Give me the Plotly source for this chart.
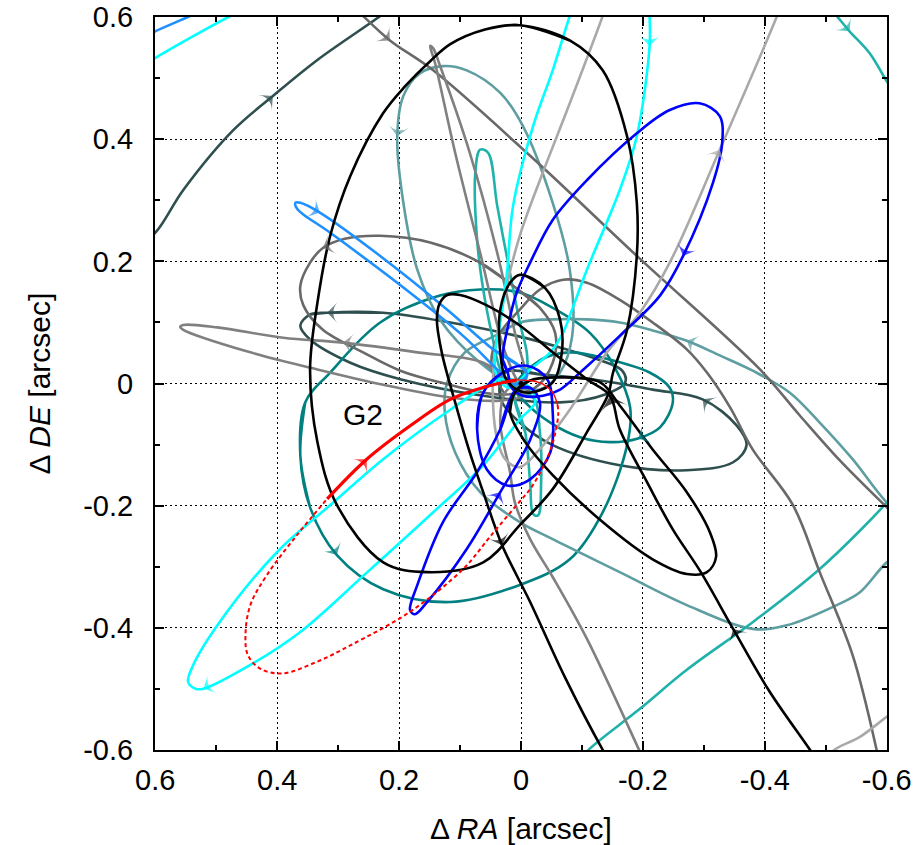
import plotly.graph_objects as go

# ---------------------------------------------------------------
# Sky-projected orbits around Sgr A* (offsets in arcsec), G2 cloud
# ---------------------------------------------------------------

TICK_VALUES = [-0.6, -0.4, -0.2, 0.0, 0.2, 0.4, 0.6]
TICK_LABELS = ["-0.6", "-0.4", "-0.2", "0", "0.2", "0.4", "0.6"]

# large black ellipse
black_big_ra = [0.002, -0.080, -0.134, -0.174, -0.190, -0.190, -0.174, -0.151, -0.143, -0.108, -0.052, 0.002,
                0.062, 0.154, 0.226, 0.302, 0.334, 0.346, 0.334, 0.313, 0.280, 0.226, 0.190, 0.149, 0.116, 0.059]
black_big_de = [0.587, 0.562, 0.513, 0.405, 0.296, 0.209, 0.088, 0.018, -0.018, -0.080, -0.173, -0.232,
                -0.293, -0.309, -0.293, -0.199, -0.096, 0.023, 0.132, 0.242, 0.340, 0.443, 0.487, 0.528, 0.556, 0.580]

# compact black ellipse close to the centre
black_inner_ra = [0.002, -0.039, -0.064, -0.067, -0.052, -0.015, 0.007, 0.026, 0.034, 0.034, 0.018]
black_inner_de = [0.178, 0.157, 0.105, 0.051, 0.002, -0.015, -0.010, 0.010, 0.051, 0.121, 0.165]

# elongated black ellipse towards the south-west
black_loop_ra = [0.010, -0.015, -0.064, -0.130, -0.162, -0.216, -0.272, -0.310, -0.320, -0.305, -0.272, -0.216,
                 -0.134, -0.052, -0.007, 0.018]
black_loop_de = [-0.015, 0.005, 0.010, 0.002, -0.036, -0.108, -0.178, -0.244, -0.284, -0.309, -0.312, -0.288,
                 -0.227, -0.150, -0.096, -0.047]

# black orbit leaving the field at the bottom
black_open_ra = [-0.146, -0.134, -0.072, -0.015, 0.031, 0.062, 0.084, 0.108, 0.130, 0.138, 0.133, 0.121, 0.100,
                 0.056, 0.002, -0.052, -0.108, -0.146, -0.162, -0.207, -0.249, -0.295, -0.348, -0.408, -0.474, -0.487]
black_open_de = [-0.620, -0.600, -0.481, -0.358, -0.265, -0.178, -0.113, -0.031, 0.051, 0.105, 0.132, 0.145, 0.145,
                 0.128, 0.095, 0.051, 0.007, -0.020, -0.075, -0.162, -0.239, -0.309, -0.402, -0.505, -0.600, -0.620]

# blue orbits
blue_big_ra = [0.021, 0.030, 0.021, 0.007, -0.015, -0.052, -0.108, -0.190, -0.244, -0.293, -0.326, -0.330, -0.315,
               -0.266, -0.228, -0.162, -0.097, -0.064, -0.036, -0.003, 0.018]
blue_big_de = [0.015, 0.039, 0.095, 0.149, 0.198, 0.268, 0.333, 0.410, 0.448, 0.459, 0.438, 0.394, 0.329,
               0.209, 0.144, 0.078, 0.018, -0.010, -0.020, -0.020, -0.003]

blue_sw_ra = [0.008, 0.034, 0.072, 0.128, 0.170, 0.182, 0.174, 0.154, 0.089, 0.034, -0.015, -0.031, -0.015]
blue_sw_de = [-0.010, -0.075, -0.145, -0.227, -0.330, -0.371, -0.378, -0.358, -0.271, -0.178, -0.092, -0.031, -0.007]

blue_inner_ra = [0.062, 0.072, 0.056, 0.023, -0.015, -0.048, -0.052, -0.043, -0.010, 0.030]
blue_inner_de = [-0.015, -0.075, -0.141, -0.167, -0.157, -0.113, -0.047, 0.007, 0.029, 0.018]

# dodger-blue orbits
dodger_ra = [-0.010, 0.046, 0.121, 0.231, 0.330, 0.362, 0.370, 0.367, 0.313, 0.203, 0.095, 0.039, 0.010]
dodger_de = [0.015, 0.056, 0.121, 0.209, 0.280, 0.296, 0.296, 0.286, 0.247, 0.165, 0.078, 0.023, -0.002]

dodger_corner_ra = [0.616, 0.600, 0.543, 0.526]
dodger_corner_de = [0.569, 0.577, 0.602, 0.610]

# cyan orbits
cyan_corner_ra = [0.616, 0.600, 0.534, 0.477, 0.461]
cyan_corner_de = [0.522, 0.533, 0.571, 0.602, 0.610]

cyan_sw_ra = [0.034, 0.116, 0.226, 0.308, 0.400, 0.498, 0.539, 0.546, 0.534, 0.521, 0.444, 0.362, 0.252, 0.144,
              0.062, 0.002, -0.023, -0.015, 0.010]
cyan_sw_de = [0.007, -0.043, -0.124, -0.195, -0.276, -0.396, -0.464, -0.489, -0.500, -0.500, -0.461, -0.407,
              -0.309, -0.211, -0.134, -0.059, -0.031, -0.007, 0.005]

cyan_north_ra = [-0.085, -0.080, -0.052, -0.020, 0.013, 0.023, 0.034, 0.043, 0.039, 0.018, -0.015, -0.048,
                 -0.069, -0.080, -0.108, -0.162, -0.190, -0.211, -0.211, -0.211]
cyan_north_de = [0.615, 0.602, 0.513, 0.422, 0.291, 0.181, 0.100, 0.046, 0.010, -0.007, 0.023, 0.051,
                 0.083, 0.111, 0.186, 0.317, 0.405, 0.553, 0.602, 0.615]

# light-sea-green orbits
lsg_north_ra = [0.034, 0.046, 0.062, 0.072, 0.075, 0.067, 0.054, 0.039, 0.018, 0.002, -0.010, -0.007, 0.015]
lsg_north_de = [0.023, 0.072, 0.154, 0.235, 0.345, 0.383, 0.378, 0.291, 0.181, 0.100, 0.046, 0.005, -0.007]

lsg_south_ra = [0.010, -0.007, -0.015, -0.020, -0.028, -0.033, -0.031, -0.020]
lsg_south_de = [-0.015, -0.080, -0.162, -0.214, -0.216, -0.162, -0.080, -0.023]

lsg_ne_ra = [-0.507, -0.518, -0.539, -0.572, -0.600, -0.613]
lsg_ne_de = [0.615, 0.602, 0.577, 0.541, 0.495, 0.476]

lsg_se_ra = [-0.097, -0.108, -0.195, -0.272, -0.380, -0.490, -0.600, -0.613]
lsg_se_de = [-0.620, -0.603, -0.533, -0.469, -0.391, -0.304, -0.195, -0.178]

# cadet-blue orbits
cadet_north_ra = [0.002, 0.067, 0.133, 0.170, 0.193, 0.203, 0.193, 0.166, 0.128, 0.089, 0.034, -0.003, -0.052,
                  -0.080, -0.084, -0.064, -0.031]
cadet_north_de = [-0.007, 0.034, 0.105, 0.186, 0.296, 0.405, 0.471, 0.508, 0.520, 0.513, 0.476, 0.422, 0.296,
                  0.186, 0.078, 0.018, -0.010]

cadet_big_ra = [0.002, -0.052, -0.108, -0.162, -0.216, -0.272, -0.326, -0.380, -0.441, -0.490, -0.544, -0.600,
                -0.638, -0.638, -0.600, -0.556, -0.518, -0.436, -0.380, -0.272, -0.162, -0.052, 0.002, 0.067,
                0.108, 0.125, 0.121, 0.092, 0.039]
cadet_big_de = [0.100, 0.105, 0.105, 0.100, 0.087, 0.070, 0.046, 0.021, -0.015, -0.064, -0.124, -0.195,
                -0.227, -0.268, -0.293, -0.342, -0.363, -0.396, -0.402, -0.363, -0.309, -0.255, -0.227, -0.178,
                -0.113, -0.047, 0.002, 0.051, 0.080]

# teal orbits
teal_big_ra = [0.362, 0.354, 0.313, 0.231, 0.133, 0.067, 0.002, -0.052, -0.113, -0.154, -0.179, -0.174, -0.134,
               -0.080, 0.002, 0.116, 0.226, 0.302, 0.346]
teal_big_de = [-0.118, -0.031, 0.018, 0.100, 0.144, 0.154, 0.149, 0.124, 0.083, 0.026, -0.039, -0.101, -0.211,
               -0.288, -0.330, -0.358, -0.337, -0.281, -0.203]

teal_east_ra = [0.010, -0.031, -0.080, -0.146, -0.211, -0.244, -0.249, -0.228, -0.192, -0.146, -0.097, -0.048, -0.007]
teal_east_de = [-0.007, 0.038, 0.051, 0.039, 0.018, -0.007, -0.031, -0.072, -0.090, -0.096, -0.088, -0.064, -0.031]

# dark-slate-grey orbits
dsg_arc_ra = [0.625, 0.600, 0.554, 0.472, 0.407, 0.334, 0.231, 0.215]
dsg_arc_de = [0.231, 0.247, 0.317, 0.415, 0.471, 0.530, 0.602, 0.615]

dsg_west_ra = [0.318, 0.226, 0.116, 0.007, -0.064, -0.130, -0.166, -0.171, -0.138, -0.064, 0.062, 0.198, 0.280,
               0.346, 0.362, 0.346]
dsg_west_de = [0.116, 0.116, 0.100, 0.078, 0.059, 0.038, 0.021, 0.002, -0.018, -0.031, -0.020, 0.007, 0.034,
               0.072, 0.095, 0.113]

dsg_east_ra = [0.026, -0.031, -0.130, -0.216, -0.298, -0.354, -0.370, -0.348, -0.272, -0.162, -0.052, 0.002, 0.034]
dsg_east_de = [0.018, 0.015, 0.005, -0.010, -0.026, -0.069, -0.101, -0.129, -0.142, -0.134, -0.101, -0.064, -0.023]

# grey orbits
dimgray_line_ra = [0.272, 0.259, 0.215, 0.144, -0.015, -0.190, -0.392, -0.457, -0.523, -0.600, -0.621]
dimgray_line_de = [0.615, 0.602, 0.562, 0.513, 0.373, 0.209, 0.023, -0.052, -0.126, -0.203, -0.224]

dimgray_arc_ra = [0.026, 0.048, 0.039, 0.002, -0.031, -0.069, -0.108, -0.162, -0.216, -0.272, -0.305, -0.343,
                  -0.380, -0.446, -0.490, -0.544, -0.584, -0.589]
dimgray_arc_de = [-0.018, 0.026, 0.075, 0.121, 0.154, 0.170, 0.165, 0.137, 0.100, 0.056, 0.018, -0.039,
                  -0.108, -0.199, -0.309, -0.445, -0.603, -0.628]

dimgray_loop_ra = [0.013, -0.031, -0.056, -0.052, -0.023, 0.034, 0.133, 0.198, 0.259, 0.325, 0.357, 0.362, 0.346,
                   0.325, 0.289, 0.231, 0.149, 0.067]
dimgray_loop_de = [0.160, 0.124, 0.083, 0.034, -0.007, -0.018, 0.002, 0.021, 0.051, 0.088, 0.128, 0.160, 0.198,
                   0.222, 0.237, 0.242, 0.231, 0.198]

gray_west_ra = [0.010, 0.062, 0.170, 0.292, 0.390, 0.498, 0.554, 0.559, 0.554, 0.444, 0.334, 0.226, 0.116, 0.034, -0.007]
gray_west_de = [-0.003, 0.034, 0.051, 0.067, 0.075, 0.092, 0.096, 0.093, 0.088, 0.051, 0.023, -0.002, -0.023,
                -0.028, -0.018]

gray_north_ra = [0.002, 0.026, 0.067, 0.108, 0.141, 0.149, 0.144, 0.133, 0.084, 0.039, 0.010, -0.007]
gray_north_de = [0.002, 0.051, 0.214, 0.378, 0.525, 0.553, 0.549, 0.521, 0.378, 0.214, 0.083, 0.010]

gray_south_ra = [-0.203, -0.195, -0.108, -0.052, -0.015, 0.010, 0.018, 0.034, 0.026, 0.002]
gray_south_de = [-0.620, -0.603, -0.418, -0.317, -0.255, -0.195, -0.145, -0.064, -0.015, 0.005]

darkgray_north_ra = [-0.141, -0.134, -0.080, -0.031, 0.002, 0.026, 0.043, 0.046, 0.039, 0.026, 0.002, -0.026,
                     -0.080, -0.141, -0.195, -0.244, -0.326, -0.420, -0.428]
darkgray_north_de = [0.623, 0.602, 0.459, 0.333, 0.242, 0.149, 0.051, -0.031, -0.092, -0.124, -0.137, -0.113,
                     -0.043, 0.051, 0.116, 0.198, 0.383, 0.602, 0.623]

darkgray_se_ra = [-0.507, -0.511, -0.556, -0.600, -0.616]
darkgray_se_de = [-0.620, -0.603, -0.579, -0.546, -0.535]

# G2: observed arc (solid), pericentre passage (thin), remaining orbit (dashed)
g2_solid_ra = [0.318, 0.253, 0.180, 0.116, 0.060, 0.007]
g2_solid_de = [-0.189, -0.124, -0.068, -0.026, -0.006, 0.006]
g2_peri_ra = [0.007, -0.020, -0.036, -0.052, -0.060]
g2_peri_de = [0.006, 0.004, -0.001, -0.015, -0.035]
g2_dash_ra = [-0.060, -0.061, -0.051, -0.034, -0.015, 0.007, 0.050, 0.095, 0.182, 0.280, 0.335, 0.392,
              0.428, 0.448, 0.452, 0.444, 0.417, 0.368, 0.318]
g2_dash_de = [-0.035, -0.052, -0.101, -0.141, -0.173, -0.199, -0.250, -0.304, -0.374, -0.429, -0.456,
              -0.475, -0.467, -0.445, -0.412, -0.363, -0.314, -0.249, -0.189]

G2_LABEL_POS = (0.259, -0.051)

# (name, ra, de, colour, closed)
ORBITS = [
    ("dsg_arc", dsg_arc_ra, dsg_arc_de, "#2f4f4f", False),
    ("dsg_west", dsg_west_ra, dsg_west_de, "#2f4f4f", True),
    ("dsg_east", dsg_east_ra, dsg_east_de, "#2f4f4f", True),
    ("teal_big", teal_big_ra, teal_big_de, "#008080", True),
    ("teal_east", teal_east_ra, teal_east_de, "#008080", True),
    ("cadet_north", cadet_north_ra, cadet_north_de, "#5f9ea0", True),
    ("cadet_big", cadet_big_ra, cadet_big_de, "#5f9ea0", True),
    ("lsg_north", lsg_north_ra, lsg_north_de, "#20b2aa", True),
    ("lsg_south", lsg_south_ra, lsg_south_de, "#20b2aa", True),
    ("lsg_ne", lsg_ne_ra, lsg_ne_de, "#20b2aa", False),
    ("lsg_se", lsg_se_ra, lsg_se_de, "#20b2aa", False),
    ("dimgray_line", dimgray_line_ra, dimgray_line_de, "#696969", False),
    ("dimgray_arc", dimgray_arc_ra, dimgray_arc_de, "#696969", False),
    ("dimgray_loop", dimgray_loop_ra, dimgray_loop_de, "#696969", True),
    ("gray_west", gray_west_ra, gray_west_de, "#808080", True),
    ("gray_north", gray_north_ra, gray_north_de, "#808080", True),
    ("gray_south", gray_south_ra, gray_south_de, "#808080", False),
    ("darkgray_north", darkgray_north_ra, darkgray_north_de, "#a9a9a9", False),
    ("darkgray_se", darkgray_se_ra, darkgray_se_de, "#a9a9a9", False),
    ("cyan_corner", cyan_corner_ra, cyan_corner_de, "#00ffff", False),
    ("cyan_sw", cyan_sw_ra, cyan_sw_de, "#00ffff", True),
    ("cyan_north", cyan_north_ra, cyan_north_de, "#00ffff", False),
    ("dodger", dodger_ra, dodger_de, "#1e90ff", True),
    ("dodger_corner", dodger_corner_ra, dodger_corner_de, "#1e90ff", False),
    ("blue_big", blue_big_ra, blue_big_de, "#0000ff", True),
    ("blue_sw", blue_sw_ra, blue_sw_de, "#0000ff", True),
    ("blue_inner", blue_inner_ra, blue_inner_de, "#0000ff", True),
    ("black_big", black_big_ra, black_big_de, "#000000", True),
    ("black_inner", black_inner_ra, black_inner_de, "#000000", True),
    ("black_loop", black_loop_ra, black_loop_de, "#000000", True),
    ("black_open", black_open_ra, black_open_de, "#000000", False),
]

# direction arrows: (orbit, index of preceding point, index of arrow point, size)
ARROWS = [
    ("dsg_arc", 3, 4, 15), ("dsg_west", 1, 0, 15), ("dsg_east", 5, 4, 15),
    ("teal_big", 18, 17, 15), ("teal_east", 7, 8, 15),
    ("cadet_north", 6, 5, 15), ("cadet_big", 6, 5, 15),
    ("lsg_ne", 1, 2, 15),
    ("dimgray_line", 1, 2, 15), ("dimgray_loop", 14, 13, 15), ("gray_west", 2, 3, 15),
    ("darkgray_north", 15, 16, 15),
    ("cyan_sw", 10, 9, 15), ("cyan_north", 18, 17, 15),
    ("dodger", 5, 4, 15),
    ("blue_big", 12, 13, 15), ("blue_sw", 8, 9, 15),
    ("black_open", 5, 4, 15), ("black_open", 23, 22, 15), ("black_open", 18, 17, 20),
]

LINE_W = 2.6
FONT_FAMILY = "Liberation Sans, Arial, Helvetica, sans-serif"


def closed_path(xs, ys):
    # wrap the point list so the spline joins smoothly where it closes
    return [xs[-1]] + list(xs) + xs[:2], [ys[-1]] + list(ys) + ys[:2]


fig = go.Figure()
lookup = {}
for name, ra, de, col, closed in ORBITS:
    lookup[name] = (ra, de, col)
    xs, ys = closed_path(ra, de) if closed else (ra, de)
    fig.add_trace(go.Scatter(x=xs, y=ys, mode="lines",
                             line=dict(color=col, width=LINE_W, shape="spline", smoothing=1.0),
                             hoverinfo="skip", showlegend=False))

# G2
fig.add_trace(go.Scatter(x=g2_dash_ra, y=g2_dash_de, mode="lines",
                         line=dict(color="#ff0000", width=2, dash="4px,3px", shape="spline"),
                         hoverinfo="skip", showlegend=False))
fig.add_trace(go.Scatter(x=g2_peri_ra, y=g2_peri_de, mode="lines",
                         line=dict(color="#ff0000", width=1.4, shape="spline"),
                         hoverinfo="skip", showlegend=False))
fig.add_trace(go.Scatter(x=g2_solid_ra, y=g2_solid_de, mode="lines",
                         line=dict(color="#ff0000", width=3.2, shape="spline"),
                         hoverinfo="skip", showlegend=False))

for name, i0, i1, size in ARROWS:
    ra, de, col = lookup[name]
    fig.add_trace(go.Scatter(x=[ra[i0], ra[i1]], y=[de[i0], de[i1]], mode="markers",
                             marker=dict(symbol="arrow-wide", size=[0, size], color=col,
                                         angleref="previous", line=dict(width=0)),
                             hoverinfo="skip", showlegend=False))

fig.add_trace(go.Scatter(x=[g2_solid_ra[0], g2_solid_ra[1]], y=[g2_solid_de[0], g2_solid_de[1]],
                         mode="markers",
                         marker=dict(symbol="arrow-wide", size=[0, 15], color="#ff0000",
                                     angleref="previous", line=dict(width=0)),
                         hoverinfo="skip", showlegend=False))

# Sgr A*
fig.add_trace(go.Scatter(x=[0.0], y=[0.0], mode="markers",
                         marker=dict(color="black", size=5), hoverinfo="skip", showlegend=False))

fig.add_annotation(x=G2_LABEL_POS[0], y=G2_LABEL_POS[1], text="G2", showarrow=False,
                   font=dict(family=FONT_FAMILY, size=30, color="black"))

FONT = dict(family=FONT_FAMILY, size=30, color="black")
TICK_FONT = dict(family=FONT_FAMILY, size=29, color="black")

axis_common = dict(
    tickvals=TICK_VALUES, ticktext=TICK_LABELS,
    ticks="inside", ticklen=9, tickwidth=1.5, tickcolor="black",
    showline=True, linewidth=2, linecolor="black", mirror="ticks",
    showgrid=True, gridcolor="black", gridwidth=1, griddash="2px,3px",
    zeroline=False, tickfont=TICK_FONT, ticklabeloverflow="allow", automargin=False,
    minor=dict(ticks="inside", ticklen=5, tickwidth=1.5, tickcolor="black", dtick=0.1, tick0=0.0, showgrid=False),
)

EPS = 0.0004
fig.update_layout(
    width=922, height=845,
    margin=dict(l=155, r=35, t=17, b=95),
    paper_bgcolor="white", plot_bgcolor="white",
    xaxis=dict(range=[0.6 + EPS, -0.6 - EPS], ticklabelstandoff=3,
               title=dict(text="Δ <i>RA</i> [arcsec]", font=FONT, standoff=24),
               **axis_common),
    yaxis=dict(range=[-0.6 - EPS, 0.6 + EPS], ticklabelstandoff=14,
               title=dict(text="Δ <i>DE</i> [arcsec]", font=FONT, standoff=24),
               **axis_common),
)

fig.write_html("out.html")
